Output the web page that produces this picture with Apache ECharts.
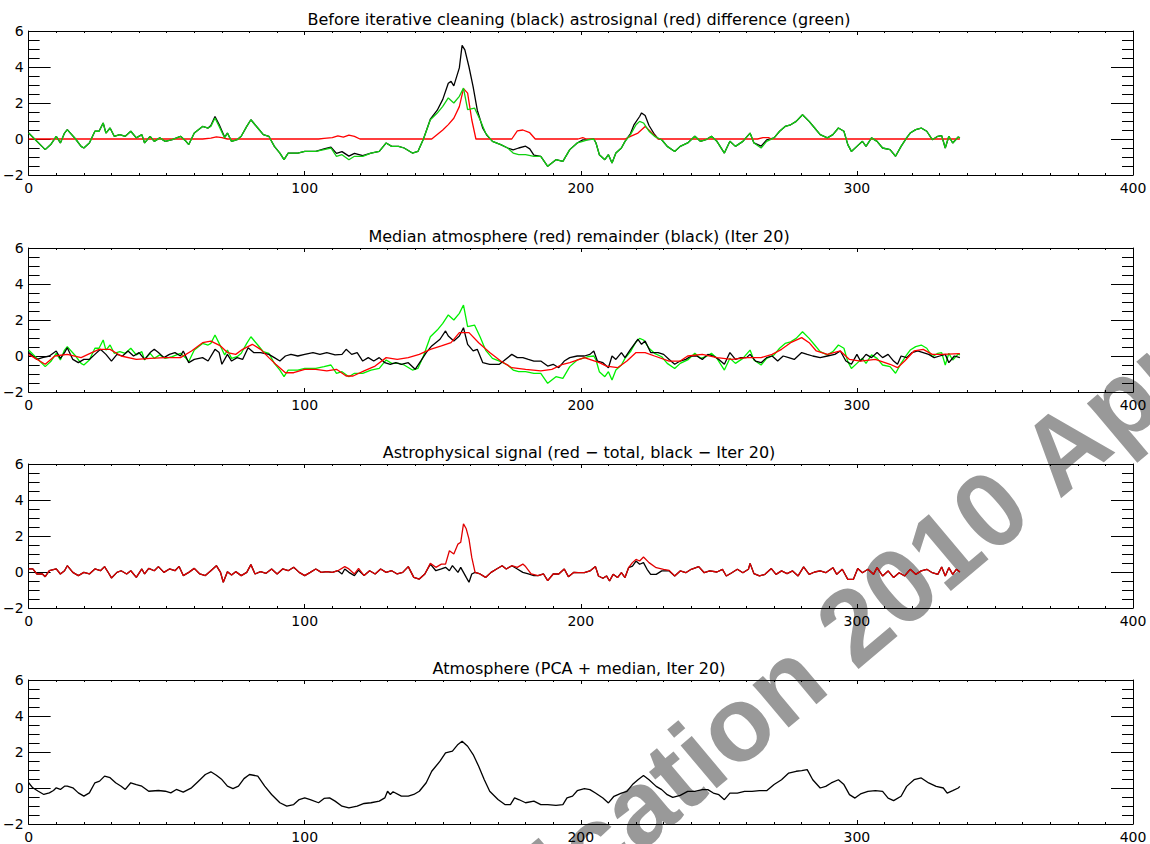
<!DOCTYPE html>
<html>
<head>
<meta charset="utf-8">
<script src="https://cdn.jsdelivr.net/npm/echarts@6/dist/echarts.min.js"></script>
<style>
html,body{margin:0;padding:0;background:#fff;}
#chart{width:1150px;height:844px;}
</style>
</head>
<body>
<div id="chart"></div>
<script>
// ---- Data (x = sample index, y = value) ----
const titles = [
  'Before iterative cleaning (black) astrosignal (red) difference (green)',
  'Median atmosphere (red) remainder (black) (Iter 20)',
  'Astrophysical signal (red \u2212 total, black \u2212 Iter 20)',
  'Atmosphere (PCA + median, Iter 20)'
];
const xTicks = [0, 100, 200, 300, 400];
const yTicks = [-2, 0, 2, 4, 6];

// Panel 1 / 2: difference (green)
const difference = [[0,0.33],[6,-0.59],[8,-0.31],[10,0.15],[11.5,-0.22],[13,0.33],[14,0.52],[17,0],[19,-0.41],[20,-0.5],[22,-0.22],[24,0.43],[25.5,0.43],[27,0.89],[28,0.33],[29.5,0.61],[31,0.15],[33,0.24],[35,0.15],[37,0.43],[39,0.06],[41,0.24],[42,-0.22],[44,0.15],[45.5,-0.13],[47.5,0.06],[49.5,-0.13],[52,-0.04],[55,0.15],[57,-0.13],[58,-0.31],[60,0.33],[63,0.7],[65,0.61],[66,0.7],[67.5,1.17],[69,0.7],[71,0.06],[72,0.33],[73.5,-0.13],[75.5,-0.04],[77,0.15],[79,0.7],[80.5,1.07],[83,0.61],[85,0.24],[87,0.15],[89,-0.41],[91,-0.78],[92.5,-1.15],[94,-0.78],[97.5,-0.78],[100,-0.69],[104,-0.69],[107,-0.59],[109.5,-0.5],[111.5,-0.96],[113.5,-0.87],[116,-1.15],[118,-0.96],[121,-0.96],[124,-0.78],[127,-0.69],[129.5,-0.22],[131.5,-0.41],[134,-0.41],[136,-0.5],[139,-0.78],[141,-0.69],[143,0],[145.5,1.07],[148,1.44],[150,1.81],[152,2.28],[154,2.0],[156,2.37],[157.5,2.83],[159,1.63],[161.5,1.72],[163.5,1.07],[165.5,0.33],[168,-0.13],[171,-0.31],[173.5,-0.5],[175.5,-0.78],[177.5,-0.87],[180,-0.87],[183,-0.96],[185.5,-0.96],[188,-1.52],[191,-1.15],[193.5,-1.24],[196,-0.59],[198.7,-0.22],[200.7,-0.13],[202.7,-0.04],[204.7,0],[205.5,-0.22],[206.7,-0.87],[208.7,-1.15],[210,-0.87],[211.3,-1.33],[212.7,-0.78],[214.7,-0.5],[216,-0.13],[218,0.24],[220,0.79],[221.3,0.98],[222.7,0.89],[224.7,0.43],[226.7,0.15],[229.3,-0.04],[231.3,-0.41],[234,-0.69],[236,-0.41],[238.7,-0.22],[241.3,0.15],[243.3,-0.13],[245.3,-0.04],[247.3,0.15],[249.3,-0.13],[252,-0.78],[254,-0.13],[256,-0.41],[258.7,-0.13],[261.3,0.33],[262.7,-0.22],[265.3,-0.5],[267.3,-0.13],[270,0.06],[272,0.43],[274,0.7],[276,0.79],[278,0.98],[280.3,1.35],[282.7,0.98],[284.7,0.61],[286.7,0.24],[289.3,0.06],[291.3,0.24],[293.3,0.61],[295.3,0.43],[296.7,-0.31],[298,-0.69],[300,-0.41],[302,-0.13],[303.3,-0.41],[305.3,0.06],[307.3,-0.13],[309.3,-0.5],[312,-0.59],[314,-0.96],[316,-0.41],[318,0.06],[319.3,0.33],[321.3,0.52],[323.3,0.61],[325.3,0.43],[327.3,-0.04],[329.3,0.15],[330.7,0.19],[332,-0.5],[333.3,0.15],[334.7,-0.22],[336.7,0.11],[337.3,0.06]];

// Panel 1: before iterative cleaning (black)
const beforeCleaning = [[0,0.33],[6,-0.59],[8,-0.31],[10,0.15],[11.5,-0.22],[13,0.33],[14,0.52],[17,0],[19,-0.41],[20,-0.5],[22,-0.22],[24,0.43],[25.5,0.43],[27,0.89],[28,0.33],[29.5,0.61],[31,0.15],[33,0.24],[35,0.15],[37,0.43],[39,0.06],[41,0.24],[42,-0.22],[44,0.15],[45.5,-0.13],[47.5,0.06],[49.5,-0.13],[52,-0.04],[55,0.15],[57,-0.13],[58,-0.31],[60,0.33],[63,0.7],[65,0.61],[66,0.75],[67.5,1.25],[69,0.8],[71,0.1],[72,0.33],[73.5,-0.13],[75.5,-0.04],[77,0.15],[79,0.7],[80.5,1.07],[83,0.61],[85,0.24],[87,0.15],[89,-0.41],[91,-0.78],[92.5,-1.15],[94,-0.78],[97.5,-0.78],[100,-0.69],[104,-0.69],[107,-0.55],[109.5,-0.45],[111.5,-0.8],[113.5,-0.7],[116,-0.95],[118,-0.8],[121,-0.93],[124,-0.78],[127,-0.69],[129.5,-0.22],[131.5,-0.41],[134,-0.41],[136,-0.5],[139,-0.78],[141,-0.69],[143,0],[145.5,1.1],[148,1.6],[150,2.2],[152,3.1],[153,3.2],[154,2.95],[156,3.95],[157,5.2],[158,4.95],[159.5,4.0],[161,2.9],[162.5,1.6],[164.5,0.6],[166,0.2],[168,-0.13],[171,-0.31],[173.5,-0.5],[175.5,-0.6],[177.5,-0.5],[180,-0.4],[181.5,-0.55],[183,-0.9],[185.5,-0.96],[188,-1.52],[191,-1.15],[193.5,-1.24],[196,-0.59],[198.7,-0.22],[200.7,-0.05],[202.7,-0.04],[204.7,0],[205.5,-0.22],[206.7,-0.87],[208.7,-1.15],[210,-0.87],[211.3,-1.33],[212.7,-0.78],[214.7,-0.5],[216,-0.13],[218,0.3],[219.3,0.8],[221.3,1.25],[222,1.45],[223.3,1.3],[224.7,0.75],[226.7,0.25],[228,0.02],[229.3,-0.04],[231.3,-0.41],[234,-0.69],[236,-0.41],[238.7,-0.22],[241.3,0.15],[243.3,-0.13],[245.3,-0.04],[247.3,0.15],[249.3,-0.13],[252,-0.78],[254,-0.13],[256,-0.41],[258.7,-0.13],[261.3,0.33],[262.7,-0.22],[265.3,-0.4],[267.3,-0.05],[270,0.06],[272,0.43],[274,0.7],[276,0.79],[278,0.98],[280.3,1.35],[282.7,0.98],[284.7,0.61],[286.7,0.24],[289.3,0.06],[291.3,0.24],[293.3,0.61],[295.3,0.43],[296.7,-0.31],[298,-0.69],[300,-0.41],[302,-0.13],[303.3,-0.41],[305.3,0.06],[307.3,-0.13],[309.3,-0.5],[312,-0.59],[314,-0.96],[316,-0.41],[318,0.06],[319.3,0.33],[321.3,0.52],[323.3,0.61],[325.3,0.43],[327.3,-0.04],[329.3,0.15],[330.7,0.19],[332,-0.5],[333.3,0.15],[334.7,-0.22],[336.7,0.11],[337.3,0.06]];

// Panel 1: astrosignal (red)
const astrosignal = [[0,0],[63,0],[66,0.05],[68,0.12],[70,0.08],[72,0],[105,0],[107,0.04],[110,0.08],[112,0.18],[114,0.1],[116,0.22],[118,0.15],[120,0],[146,0],[148,0.25],[150,0.5],[152,0.8],[154,1.15],[156,1.8],[157.5,2.8],[159,2.55],[160.5,1.07],[162,0],[175,0],[177,0.45],[179,0.5],[181.5,0.35],[183.5,0],[199,0],[200.7,0.08],[202,0],[216,0],[218,0.15],[220.7,0.33],[223.3,0.7],[225.3,0.4],[228,0],[264,0],[266,0.08],[268,0.08],[269,0],[337.3,0]];

// Panel 2: median atmosphere (red)
const medianAtmosphere = [[0,0.09],[6,-0.46],[9.5,0],[14,0.09],[19,-0.09],[21.5,0.09],[25.5,0.37],[29.5,0.37],[33.5,0],[39,-0.19],[44,-0.13],[49.5,-0.09],[55,-0.09],[59,0.28],[63,0.74],[66,0.83],[69.5,0.56],[72,0.19],[75,0.09],[77.5,0.37],[81,0.65],[84,0.37],[87,-0.09],[89.5,-0.46],[93,-0.93],[96,-0.93],[100,-0.74],[104,-0.74],[108,-0.83],[111.5,-0.74],[115,-1.11],[117.5,-1.11],[121.5,-0.83],[125.5,-0.56],[129.5,-0.09],[133.5,-0.19],[137.5,-0.09],[141.5,0.09],[145.5,0.37],[149.5,0.56],[153,0.74],[156,1.3],[159.5,1.3],[163,0.74],[167,0.19],[171,-0.28],[175,-0.65],[180,-0.74],[185.5,-0.83],[189.5,-0.74],[193.5,-0.46],[196,-0.37],[201.3,-0.09],[206.7,-0.37],[209.3,-0.56],[213.3,-0.65],[216.7,-0.28],[220,0.19],[223.3,0.19],[226.7,0],[232,-0.28],[236,-0.28],[238.7,0],[244,0.09],[249.3,-0.09],[254.7,-0.19],[260,-0.09],[265.3,-0.09],[269.3,0.09],[272.7,0.37],[276,0.74],[280,1.02],[282.7,0.74],[285.3,0.28],[289.3,0.09],[294,0.28],[297.3,-0.19],[301.3,-0.28],[306.7,-0.19],[312,-0.46],[314.7,-0.65],[317.3,-0.28],[320.7,0.28],[324,0.37],[327.3,0.09],[330.7,0.09],[337.3,0.13]];

// Panel 2: remainder (black)
const remainder = [[0,0.19],[3,-0.19],[5,-0.09],[7.5,0],[10,0.28],[11.5,-0.13],[13,0.19],[14,0.46],[16,-0.19],[18,-0.37],[20,-0.19],[22,-0.19],[24,0.09],[26,0.37],[28,0.09],[30,-0.28],[32,0.09],[34,0],[36,0.28],[38,0],[40,0.19],[42,-0.19],[44,0.19],[45.5,0.37],[47,0.19],[49,-0.09],[51,0.09],[53,0.19],[55,0],[56,0.28],[58,-0.37],[60,-0.19],[63,-0.09],[65,-0.28],[67.5,0.37],[69,0.19],[70,-0.46],[72,0.09],[73.5,-0.28],[75.5,-0.09],[77.5,-0.19],[79.5,0.46],[81.5,0.19],[84,0.19],[87,0.09],[89,-0.09],[91,-0.28],[93,0],[95,0.09],[97.5,0],[100,0.09],[103,0.19],[105.5,0.09],[108,0.19],[111,0.06],[113.5,0.09],[115,0.37],[117,0.09],[119,0.19],[121,-0.28],[123,-0.09],[125,-0.28],[127,-0.09],[129,-0.37],[131,-0.46],[133,-0.37],[135,-0.46],[137.5,-0.37],[140,-0.74],[142,-0.28],[144,0.19],[146,0.56],[149,0.93],[151,1.39],[152,1.11],[154,0.83],[156,1.11],[157.5,1.57],[159,0.65],[161,0.28],[162.5,0.37],[164.5,-0.37],[167,-0.46],[170.5,-0.46],[172,-0.28],[175,0.09],[177,-0.09],[179,-0.09],[181,-0.19],[183,-0.28],[185.5,-0.28],[188,-0.56],[190,-0.46],[192,-0.65],[194,-0.28],[196,-0.09],[198.7,0],[201.3,0],[203.3,0.09],[204.7,0.28],[206,-0.28],[208,-0.37],[210,-0.65],[211.3,0],[212.7,-0.19],[214.7,0.19],[216,-0.09],[218,0.37],[220.7,0.93],[222,0.65],[223.3,0.83],[225.3,0.19],[228,0.19],[230,0.09],[232,-0.19],[234,-0.46],[236,-0.28],[238,-0.19],[240,0],[242,0],[244,-0.19],[246,0.09],[248,0],[250,-0.19],[252,-0.46],[254,0.19],[256,-0.19],[258,-0.09],[260,-0.09],[261.3,0.09],[263.3,-0.28],[265.3,-0.37],[267.3,-0.09],[269.3,0],[271.3,-0.28],[273.3,0],[275.3,-0.09],[277.3,-0.19],[280,0.19],[282,0.09],[284,0],[286.7,-0.09],[289.3,0],[292,0.09],[294,0.28],[296,-0.28],[298,-0.46],[300,0.09],[301.3,-0.28],[303.3,0.09],[305.3,-0.09],[307.3,0.19],[309.3,-0.09],[311.3,0.09],[313.3,-0.28],[314.7,-0.46],[316,0],[318,-0.09],[320,0.19],[322,0.28],[324,0.19],[326,0.09],[328,-0.09],[330,0],[332,0.09],[333.3,-0.37],[335.3,0],[337.3,-0.09]];

// Panel 3: astrophysical signal, total (red)
const signalTotal = [[0,0.17],[1.5,0.17],[3,-0.11],[5,-0.11],[6,-0.26],[7.5,0.07],[10,0.17],[11.5,-0.11],[13,0.07],[14,0.35],[16,-0.02],[18,-0.2],[20,-0.02],[22,-0.11],[24,0.17],[26,0.07],[27.5,0.3],[29,-0.07],[30,-0.33],[32,-0.02],[33.5,0.07],[35.5,-0.11],[37,0.07],[39,-0.3],[41,0.17],[42,-0.11],[43.5,0.2],[45.5,0.07],[47,0.3],[49,-0.02],[51,0.17],[53,0.07],[54.5,0.31],[56,-0.2],[58,-0.02],[60,0.2],[62,-0.11],[64,-0.2],[66,0.07],[68,0.35],[69.5,-0.02],[70.5,-0.57],[72,0.02],[73.5,-0.17],[75,0.02],[77,-0.2],[79,-0.02],[80.5,0.41],[82,-0.11],[84,0.02],[86,-0.07],[88,0.17],[90,-0.11],[92,0.17],[94,0.07],[96,0.26],[98,-0.02],[100,-0.2],[102,-0.02],[104,0.17],[106,-0.02],[108,0.02],[110,-0.02],[112,0.07],[114.5,0.3],[116,0.17],[118,-0.11],[119.5,0.2],[121.5,-0.2],[123.5,0.07],[125.5,-0.11],[127.5,0.17],[129.5,-0.02],[131.5,0.07],[133.5,-0.11],[135.5,-0.02],[137.5,0.3],[139.5,-0.3],[141.5,-0.39],[143.5,-0.11],[145.5,0.48],[147.5,0.26],[149.5,0.44],[151,0.44],[152.4,1.18],[154,1.0],[155.5,1.55],[156.5,1.65],[157.5,2.67],[158.5,2.4],[159.5,1.83],[160.5,0.81],[161.7,-0.02],[163.5,-0.11],[165.5,-0.3],[167.5,-0.02],[169.5,0.17],[171.5,0.35],[173,0.17],[175,0.35],[177,0.26],[179,0.44],[180,0.3],[182,-0.11],[184.5,-0.2],[186.5,-0.11],[188,-0.48],[190,-0.11],[192,-0.11],[194,0.17],[195.5,-0.26],[197.5,-0.02],[199,-0.04],[201.3,-0.04],[203.3,0.06],[205.3,0.3],[206.4,-0.22],[208,-0.35],[209.3,-0.22],[210.4,-0.5],[211.7,-0.13],[213.3,-0.31],[214.7,-0.04],[216,-0.31],[217.3,0.24],[218.7,0.52],[220,0.7],[221.3,0.61],[222.7,0.83],[224.7,0.52],[227.3,0.24],[230,0.15],[232,0.09],[234,-0.22],[236,0.06],[238,-0.04],[240,0.15],[242.7,0.3],[244.7,-0.04],[246.7,0.06],[249.3,0],[251.3,0.15],[252.7,-0.22],[254.7,-0.04],[256.7,0.15],[258.7,-0.04],[260.7,0.15],[261.3,0.48],[262.7,-0.09],[264.7,-0.22],[266.7,-0.13],[269,0.19],[270.7,-0.13],[272.7,0.06],[274.7,-0.09],[276.7,0.06],[278.7,-0.22],[280.7,0.28],[282.7,-0.13],[284.7,0],[286.7,0.06],[288.7,-0.04],[291.3,0.24],[292.7,-0.13],[294.7,0.15],[296.7,-0.41],[298.7,-0.41],[300.3,0.19],[302,-0.04],[304,0.15],[306,-0.13],[307.3,0.24],[309.3,-0.22],[311.3,0.06],[313.3,-0.31],[315.3,-0.04],[317.3,-0.22],[319.3,0.15],[321.3,-0.13],[323.3,0.06],[325.3,0.15],[327.3,-0.04],[329.3,-0.13],[330.7,0.28],[332,-0.22],[333.3,0.24],[334.7,-0.13],[336,0.15],[337.3,0]];

// Panel 3: astrophysical signal, Iter 20 (black)
const signalIter20 = [[0,0.17],[1.5,0.17],[3,-0.11],[5,-0.11],[6,-0.26],[7.5,0.07],[10,0.17],[11.5,-0.11],[13,0.07],[14,0.35],[16,-0.02],[18,-0.2],[20,-0.02],[22,-0.11],[24,0.17],[26,0.07],[27.5,0.3],[29,-0.07],[30,-0.33],[32,-0.02],[33.5,0.07],[35.5,-0.11],[37,0.07],[39,-0.3],[41,0.17],[42,-0.11],[43.5,0.2],[45.5,0.07],[47,0.3],[49,-0.02],[51,0.17],[53,0.07],[54.5,0.31],[56,-0.2],[58,-0.02],[60,0.2],[62,-0.11],[64,-0.2],[66,0.07],[68,0.35],[69.5,-0.02],[70.5,-0.57],[72,0.02],[73.5,-0.17],[75,0.02],[77,-0.2],[79,-0.02],[80.5,0.41],[82,-0.11],[84,0.02],[86,-0.07],[88,0.17],[90,-0.11],[92,0.17],[94,0.07],[96,0.26],[98,-0.02],[100,-0.2],[102,-0.02],[104,0.17],[106,-0.02],[108,0.02],[110,-0.02],[112,0.07],[113.5,-0.11],[114.5,0.17],[116,-0.02],[118,-0.2],[119.5,0.1],[121.5,-0.2],[123.5,0.07],[125.5,-0.11],[127.5,0.17],[129.5,-0.02],[131.5,0.07],[133.5,-0.11],[135.5,-0.02],[137.5,0.3],[139.5,-0.3],[141.5,-0.39],[143.5,-0.11],[145.5,0.44],[147.5,0.07],[149.5,0.17],[151,0.26],[152.4,0.07],[153.5,0.35],[155.5,-0.02],[156.5,0.26],[158.5,-0.3],[159.5,-0.57],[160.5,-0.11],[161.7,-0.02],[163.5,-0.11],[165.5,-0.3],[167.5,-0.02],[169.5,0.17],[171.5,0.35],[173,0.17],[175,0.35],[177,0.17],[179,-0.02],[181,-0.11],[183,-0.2],[184.5,-0.2],[186.5,-0.11],[188,-0.48],[190,-0.11],[192,-0.11],[194,0.17],[195.5,-0.26],[197.5,-0.02],[199,-0.04],[201.3,-0.04],[203.3,0.06],[205.3,0.3],[206.4,-0.22],[208,-0.35],[209.3,-0.22],[210.4,-0.5],[211.7,-0.13],[213.3,-0.31],[214.7,-0.04],[216,-0.31],[217.3,0.24],[218.7,0.33],[220,0.61],[221.3,0.43],[222.7,0.52],[224,0.15],[225.3,-0.13],[227.3,-0.13],[229.3,0.06],[232,0.06],[234,-0.22],[236,0.06],[238,-0.04],[240,0.15],[242.7,0.3],[244.7,-0.04],[246.7,0.06],[249.3,0],[251.3,0.15],[252.7,-0.22],[254.7,-0.04],[256.7,0.15],[258.7,-0.04],[260.7,0.15],[261.3,0.48],[262.7,-0.09],[264.7,-0.22],[266.7,-0.13],[269,0.19],[270.7,-0.13],[272.7,0.06],[274.7,-0.09],[276.7,0.06],[278.7,-0.22],[280.7,0.28],[282.7,-0.13],[284.7,0],[286.7,0.06],[288.7,-0.04],[291.3,0.24],[292.7,-0.13],[294.7,0.15],[296.7,-0.41],[298.7,-0.41],[300.3,0.19],[302,-0.04],[304,0.15],[306,-0.13],[307.3,0.24],[309.3,-0.22],[311.3,0.06],[313.3,-0.31],[315.3,-0.04],[317.3,-0.22],[319.3,0.15],[321.3,-0.13],[323.3,0.06],[325.3,0.15],[327.3,-0.04],[329.3,-0.13],[330.7,0.28],[332,-0.22],[333.3,0.24],[334.7,-0.13],[336,0.15],[337.3,0]];

// Panel 4: atmosphere (PCA + median)
const atmosphere = [[0,0.29],[1.5,0.01],[3.5,-0.18],[5.5,-0.36],[7.5,-0.27],[9,-0.14],[10,0.01],[11.5,-0.08],[13,0.1],[14,0.1],[16,0.01],[18,-0.27],[20,-0.45],[22,-0.27],[24,0.29],[25.7,0.38],[27.5,0.66],[29.5,0.57],[31.5,0.29],[33.5,0.1],[35,-0.08],[37,0.29],[39,0.19],[41,0.1],[43.5,-0.18],[47,-0.14],[49.5,-0.18],[51.5,-0.27],[53.5,-0.08],[56,-0.23],[59,0.01],[61.5,0.38],[64,0.75],[66,0.9],[68,0.71],[70,0.47],[72,0.1],[74,-0.03],[76,0.1],[78,0.52],[80,0.75],[83,0.66],[85.5,0.1],[88,-0.36],[91,-0.82],[93.5,-1.01],[96,-0.92],[98,-0.64],[100,-0.55],[102,-0.64],[105,-0.82],[107,-0.58],[109,-0.55],[111,-0.73],[113.5,-1.01],[116,-1.1],[119,-1.01],[121.5,-0.86],[124,-0.82],[127,-0.73],[129,-0.55],[130,-0.18],[131,-0.36],[132,-0.21],[135,-0.45],[137.5,-0.45],[139.5,-0.36],[141.5,-0.18],[144,0.29],[146,0.93],[149,1.49],[151,1.95],[153.5,2.05],[155.5,2.42],[157,2.6],[159,2.32],[161,1.86],[163,1.21],[165,0.47],[167,-0.18],[170,-0.64],[172.5,-0.92],[174.5,-0.92],[176,-0.55],[177.5,-0.64],[180,-0.82],[183,-0.73],[185.5,-0.92],[188,-0.92],[191,-0.96],[193.5,-0.92],[195,-0.55],[197,-0.45],[198.7,-0.15],[201.3,-0.04],[203.3,-0.09],[205.3,-0.28],[208,-0.56],[210,-0.83],[212,-0.46],[214.7,-0.28],[216.7,-0.19],[218.7,0.19],[220.7,0.46],[222.7,0.69],[224.7,0.46],[227.3,0.09],[229.3,-0.09],[231.3,-0.37],[233.3,-0.52],[236,-0.41],[238.7,-0.19],[241.3,-0.19],[244,-0.09],[246,-0.09],[248,-0.28],[250,-0.37],[252,-0.65],[254,-0.28],[256.7,-0.28],[259.3,-0.19],[262,-0.19],[264.7,-0.15],[267.3,-0.15],[270,0.19],[272.7,0.46],[275.3,0.83],[278,0.93],[280,0.96],[282,1.02],[284,0.46],[286.7,0],[288.7,0.09],[290.7,0.28],[293.3,0.46],[295.3,0.19],[297.3,-0.37],[299.3,-0.56],[301.3,-0.33],[304,-0.19],[306.7,-0.15],[309.3,-0.19],[311.3,-0.56],[313.3,-0.7],[316,-0.46],[318,0.09],[320.7,0.46],[323.3,0.56],[326,0.28],[328.7,0.09],[331.3,0],[332.7,-0.28],[334.7,-0.15],[336.7,0],[337.3,0.09]];

// ---- Layout ----
const FONT = "'DejaVu Sans', sans-serif";
const gridTops = [31, 248, 464, 680];
const GRID_LEFT = 25, GRID_W = 1108, GRID_H = 144;

const panels = [
  [ {data: beforeCleaning, color: '#000000'}, {data: astrosignal, color: '#ff0000'}, {data: difference, color: '#10d010'} ],
  [ {data: difference, color: '#00f000'}, {data: remainder, color: '#000000'}, {data: medianAtmosphere, color: '#ff0000'} ],
  [ {data: signalIter20, color: '#000000'}, {data: signalTotal, color: '#e00000'} ],
  [ {data: atmosphere, color: '#000000'} ]
];

const fmt = v => (v < 0 ? '\u2212' + (-v) : String(v));

const grid = [], xAxis = [], yAxis = [], series = [], graphic = [];
gridTops.forEach((top, i) => {
  grid.push({left: GRID_LEFT, top: top, width: GRID_W, height: GRID_H});
  const xBase = {
    gridIndex: i, type: 'value', min: xTicks[0], max: xTicks[xTicks.length - 1],
    interval: xTicks[1] - xTicks[0],
    axisLine: {show: true, onZero: false, lineStyle: {color: '#000', width: 1}},
    axisTick: {show: true, inside: true, length: 4, lineStyle: {color: '#000'}},
    minorTick: {show: true, splitNumber: 10, length: 2, lineStyle: {color: '#000'}},
    splitLine: {show: false}, minorSplitLine: {show: false}
  };
  xAxis.push(Object.assign({}, xBase, {position: 'bottom',
    axisLabel: {show: true, color: '#000', fontSize: 14, fontFamily: FONT, margin: 6, formatter: fmt}}));
  xAxis.push(Object.assign({}, xBase, {position: 'top', axisLabel: {show: false}}));
  const yBase = {
    gridIndex: i, type: 'value', min: yTicks[0], max: yTicks[yTicks.length - 1],
    interval: yTicks[1] - yTicks[0],
    axisLine: {show: true, onZero: false, lineStyle: {color: '#000', width: 1}},
    axisTick: {show: true, inside: true, length: 22, lineStyle: {color: '#000'}},
    minorTick: {show: true, splitNumber: 4, length: 11, lineStyle: {color: '#000'}},
    splitLine: {show: false}, minorSplitLine: {show: false}
  };
  yAxis.push(Object.assign({}, yBase, {position: 'left',
    axisLabel: {show: true, color: '#000', fontSize: 14, fontFamily: FONT, margin: 5, formatter: fmt}}));
  yAxis.push(Object.assign({}, yBase, {position: 'right', axisLabel: {show: false}}));

  panels[i].forEach(s => {
    series.push({
      type: 'line', xAxisIndex: 2 * i, yAxisIndex: 2 * i, data: s.data,
      showSymbol: false, symbol: 'none', smooth: false,
      lineStyle: {color: s.color, width: 1.3}, itemStyle: {color: s.color},
      emphasis: {disabled: true}, z: 3
    });
  });

  graphic.push({
    type: 'text', x: GRID_LEFT + GRID_W / 2, y: top - 12, z: 10,
    style: {text: titles[i], fill: '#000', font: '16px ' + FONT, textAlign: 'center', textVerticalAlign: 'middle'}
  });
});

// watermark (partly outside the page, as in the original)
const WM_FONT = "bold 106px 'Liberation Sans', Arial, sans-serif";
graphic.push({
  type: 'group', x: 922, y: 567, rotation: 0.70, z: -10, silent: true,
  children: [
    {type: 'text', x: -148, y: 0, z: -10, style: {text: 'Publication', fill: '#999999', font: WM_FONT, textAlign: 'right', textVerticalAlign: 'middle'}},
    {type: 'text', x: 0, y: 0, z: -10, style: {text: '2010', fill: '#999999', font: WM_FONT, textAlign: 'center', textVerticalAlign: 'middle'}},
    {type: 'text', x: 148, y: 0, z: -10, style: {text: 'April', fill: '#999999', font: WM_FONT, textAlign: 'left', textVerticalAlign: 'middle'}}
  ]
});

const chart = echarts.init(document.getElementById('chart'), null, {renderer: 'svg', width: 1150, height: 844});
chart.setOption({
  animation: false,
  backgroundColor: '#ffffff',
  grid: grid, xAxis: xAxis, yAxis: yAxis, series: series, graphic: graphic
});
</script>
</body>
</html>
